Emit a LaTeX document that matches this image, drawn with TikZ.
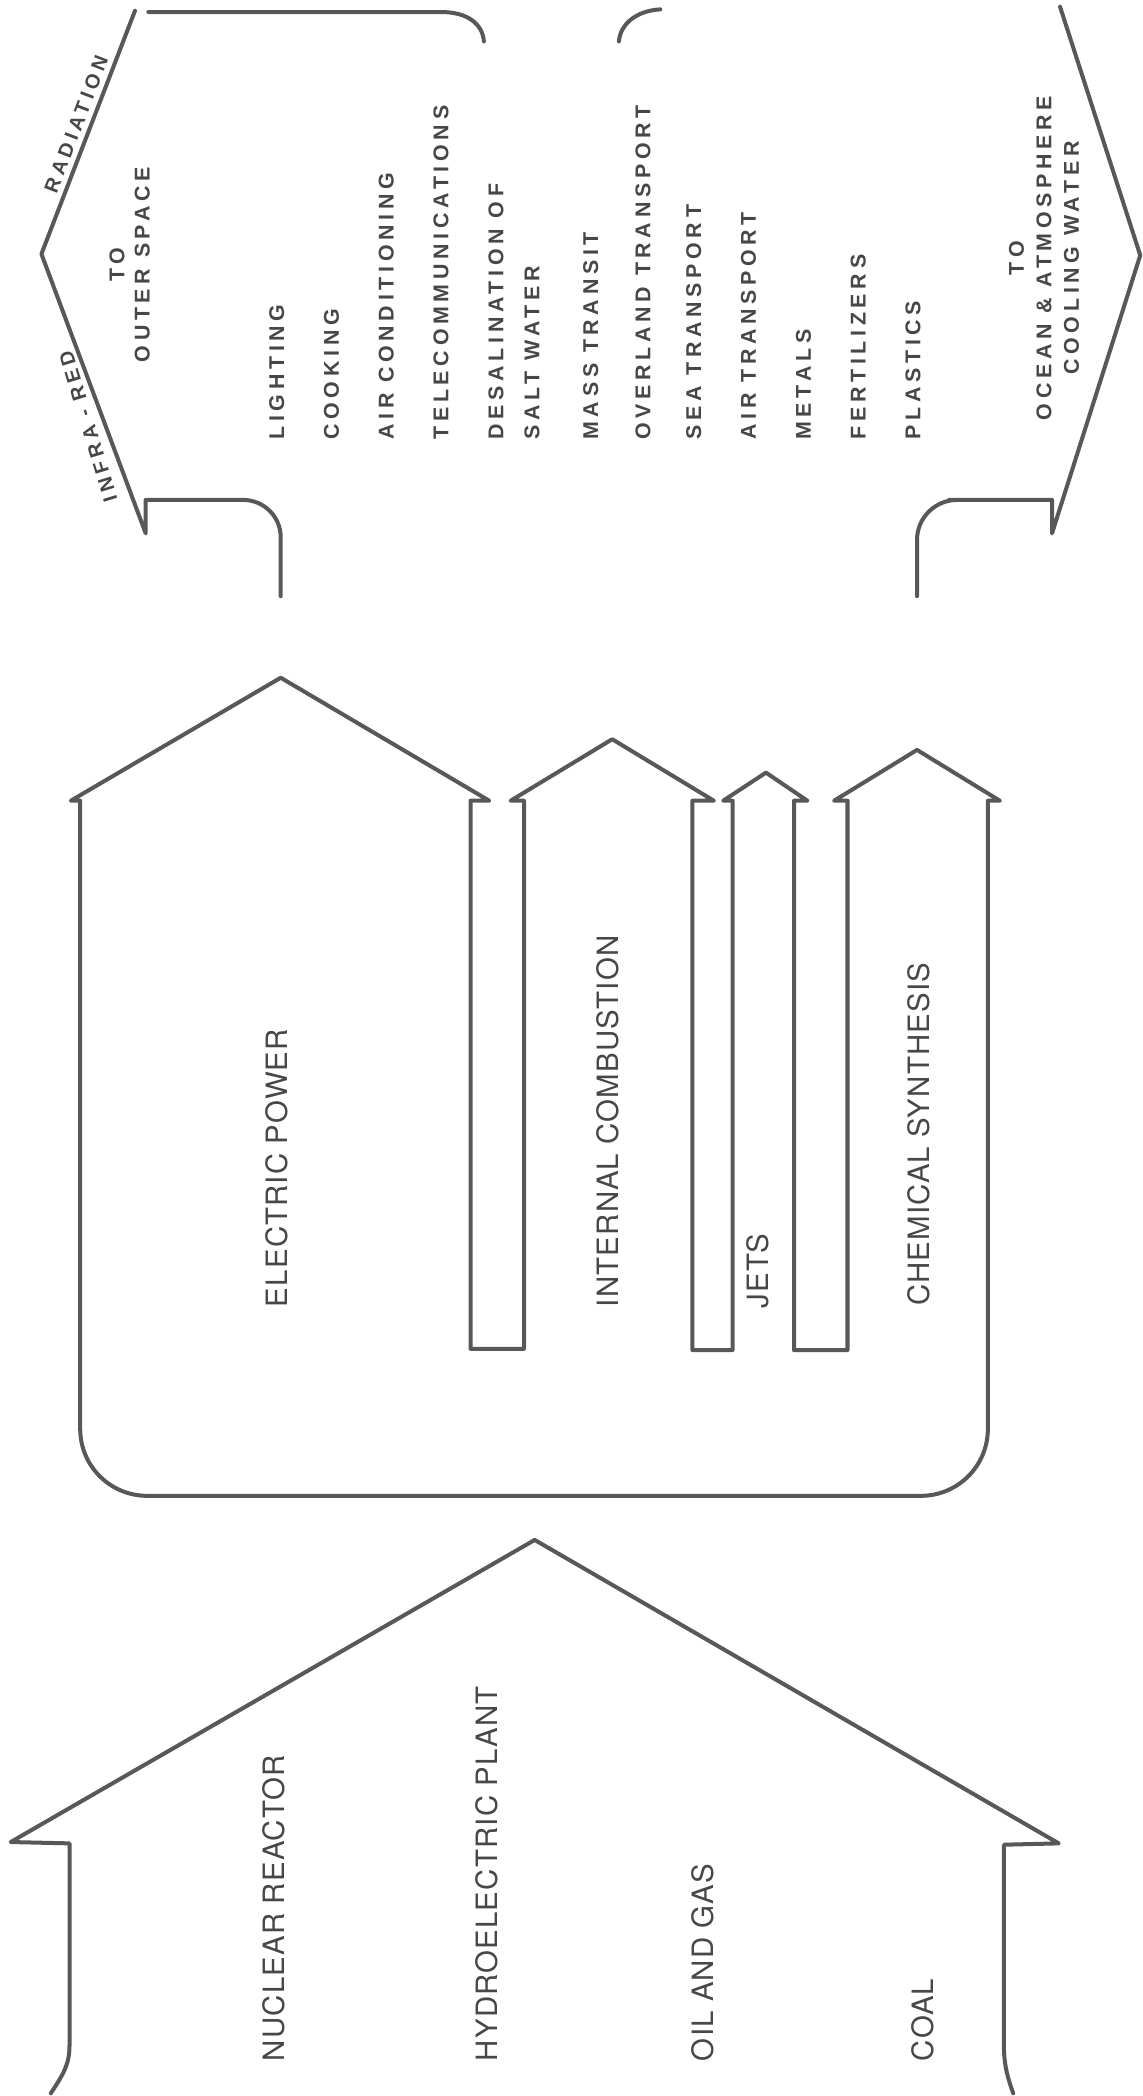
\documentclass[tikz,border=0pt]{standalone}
\usepackage{fontspec}
\setmainfont{TeX Gyre Heros}
\newfontfamily\leroyfamily[LetterSpace=22]{Liberation Sans}
\usepackage{xcolor}
\definecolor{inkLine}{HTML}{585858}
\definecolor{inkText}{HTML}{474747}
\usetikzlibrary{positioning}

\begin{document}
\begin{tikzpicture}[x=1pt, y=-1pt,
    outline/.style={draw=inkLine, line width=3pt, line join=round, line cap=round},
    flowlabel/.style={rotate=90, anchor=west, inner sep=0pt, text=inkText,
      font=\fontsize{22}{26}\selectfont\addfontfeature{LetterSpace=4}},
    uselabel/.style={rotate=90, anchor=west, inner sep=0pt, text=inkText,
      font=\leroyfamily\bfseries\fontsize{16}{19}\selectfont},
    sinklabel/.style={rotate=90, anchor=center, inner sep=0pt, text=inkText, align=center},
    raylabel/.style={anchor=center, inner sep=0pt, text=inkText,
      font=\leroyfamily\bfseries\fontsize{15}{18}\selectfont}]
  \useasboundingbox (0,0) rectangle (855,1568);

  % sinks at the top
  \draw[outline] (111,9) -- (330,9) .. controls (350,9) and (361,18) .. (362,31);
  \draw[outline] (463,31) .. controls (464,18) and (476,8) .. (494,7);
  \draw[outline, rounded corners=28pt] (210,446) -- (210,374) -- (150,374)
    [sharp corners] -- (109,374) -- (109,399) -- (31,190) -- (101,8);
  \draw[outline, rounded corners=30pt] (686,446) -- (686,374) -- (740,374)
    [sharp corners] -- (787,374) -- (787,399) -- (853,191) -- (793,5);

  \node[raylabel, rotate=69] (radiation) at (57,93) {RADIATION};
  \node[raylabel, rotate=107] (infrared) at (66,319) {INFRA - RED};
  \node[sinklabel, font=\leroyfamily\bfseries\fontsize{16}{19}\selectfont]
    (outerspace) at (97,198) {TO\\OUTER SPACE};
  \node[sinklabel, font=\leroyfamily\bfseries\fontsize{16}{20.5}\selectfont]
    (ocean) at (781,193) {TO\\OCEAN \& ATMOSPHERE\\COOLING WATER};

  \node[uselabel] (lighting) at (207,329) {LIGHTING};
  \node[uselabel] (cooking) at (248,329) {COOKING};
  \node[uselabel] (aircond) at (289,329) {AIR CONDITIONING};
  \node[uselabel] (telecom) at (330,329) {TELECOMMUNICATIONS};
  \node[uselabel, align=left, font=\leroyfamily\bfseries\fontsize{16}{27}\selectfont]
    (desal) at (384.5,329) {DESALINATION OF\\SALT WATER};
  \node[uselabel] (masstransit) at (442,329) {MASS TRANSIT};
  \node[uselabel] (overland) at (481,329) {OVERLAND TRANSPORT};
  \node[uselabel] (sea) at (519,329) {SEA TRANSPORT};
  \node[uselabel] (air) at (560,329) {AIR TRANSPORT};
  \node[uselabel] (metals) at (601,329) {METALS};
  \node[uselabel] (fertilizers) at (642,329) {FERTILIZERS};
  \node[uselabel] (plastics) at (683,329) {PLASTICS};

  % conversion
  \draw[outline] (53,599) -- (210,507) -- (366,599) -- (352,599) -- (352,1009)
    -- (392,1009) -- (392,599) -- (382,599) -- (458,553) -- (534,599) -- (518,599)
    -- (518,1010) -- (548,1010) -- (548,599) -- (541,599) -- (573,578) -- (604,599)
    -- (594,599) -- (594,1010) -- (634,1010) -- (634,599) -- (624,599) -- (686,561)
    -- (748,599) -- (739,599) -- (739,700) [rounded corners=50pt] -- (739,1119)
    -- (60,1119) -- (60,1000) [sharp corners] -- (60,599) -- cycle;

  \node[flowlabel] (electric) at (207,978) {ELECTRIC POWER};
  \node[flowlabel] (combustion) at (455,978) {INTERNAL COMBUSTION};
  \node[flowlabel] (jets) at (567,979) {JETS};
  \node[flowlabel] (chemical) at (687,977) {CHEMICAL SYNTHESIS};

  % sources
  \draw[outline] (38,1566) .. controls (47,1552) and (52,1545) .. (52,1530)
    -- (52,1379) -- (8,1378) -- (400,1152) -- (792,1379) -- (751,1380)
    -- (751,1530) .. controls (751,1545) and (754,1555) .. (758,1566);

  \node[flowlabel] (nuclear) at (205,1542) {NUCLEAR REACTOR};
  \node[flowlabel] (hydro) at (364,1542) {HYDROELECTRIC PLANT};
  \node[flowlabel] (oilgas) at (526,1542) {OIL AND GAS};
  \node[flowlabel] (coal) at (690,1542) {COAL};
\end{tikzpicture}
\end{document}
